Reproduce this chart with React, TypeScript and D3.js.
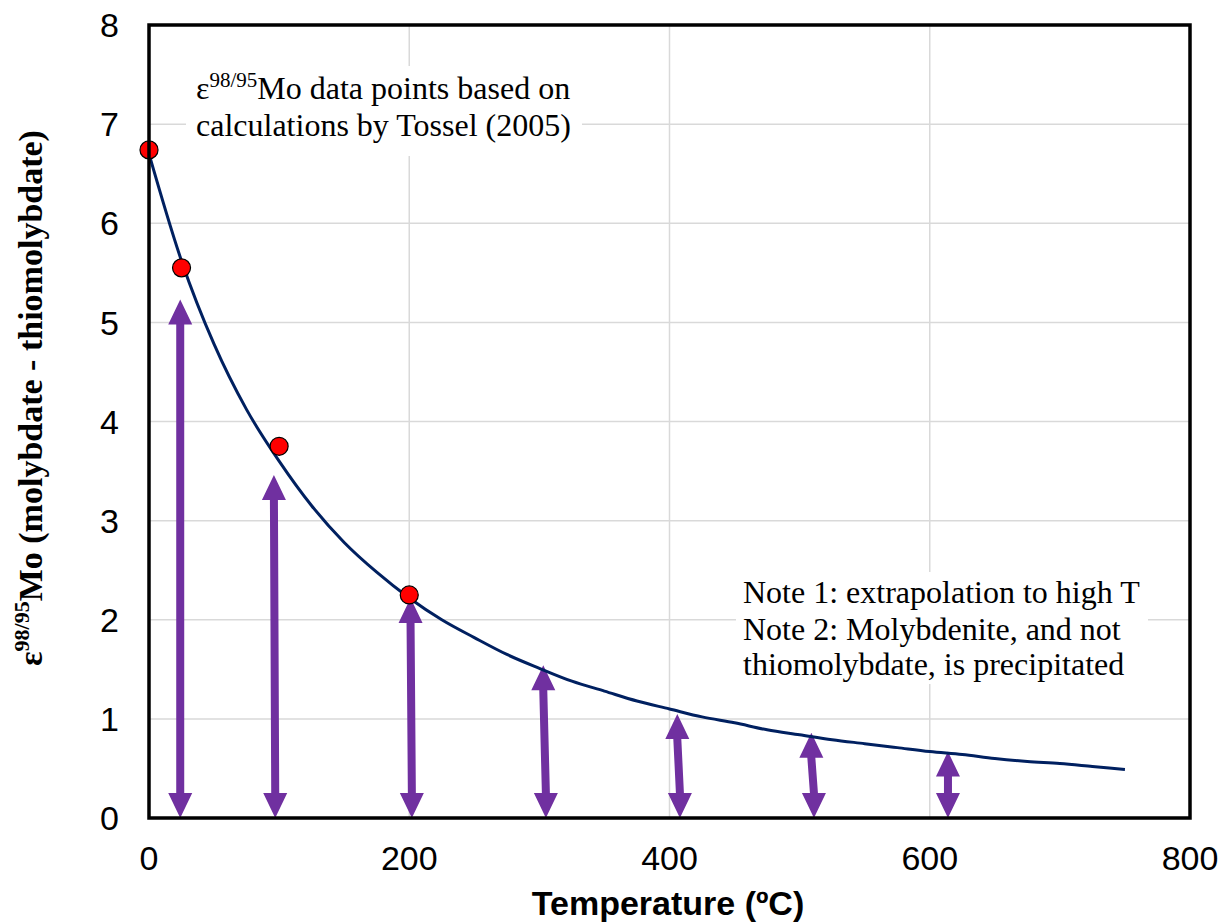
import React from "react";
import * as d3 from "d3";

const xTicks = [0, 200, 400, 600, 800];
const yTicks = [0, 1, 2, 3, 4, 5, 6, 7, 8];

// Tossel (2005) data points
const pointT = [0, 25, 100, 200];
const pointE = [6.74, 5.55, 3.75, 2.25];

// extrapolation curve
const curveT = [0, 25, 50, 75, 100, 125, 150, 175, 200, 225, 250, 275, 300, 325, 350, 375, 400, 425, 450, 475, 500, 525, 550, 575, 600, 625, 650, 675, 700, 725, 750];
const curveE = [6.70, 5.62, 4.78, 4.12, 3.60, 3.15, 2.78, 2.48, 2.22, 2.00, 1.82, 1.65, 1.51, 1.38, 1.28, 1.18, 1.10, 1.02, 0.96, 0.89, 0.84, 0.79, 0.75, 0.71, 0.67, 0.64, 0.60, 0.57, 0.55, 0.52, 0.49];

// double-headed arrows
const arrowTtop = [24, 96, 201, 303, 406, 509, 614];
const arrowTbot = [24, 97, 202, 305, 408, 511, 614];
const arrowTopE = [5.23, 3.46, 2.22, 1.54, 1.05, 0.86, 0.67];

const W = 1225, H = 924;
const L = 149, R = 1190, T = 25, B = 818;

export default function App() {
  const x = d3.scaleLinear().domain([0, 800]).range([L, R]);
  const y = d3.scaleLinear().domain([0, 8]).range([B, T]);
  const line = d3.line<number>().x((_, i) => x(curveT[i])).y((d) => y(d)).curve(d3.curveMonotoneX);

  const headL = 25, headW = 12, shaftW = 4;
  const arrowPath = (i: number) => {
    const xt = x(arrowTtop[i]), xb = x(arrowTbot[i]);
    const yt = y(arrowTopE[i]), yb = y(0);
    const p = [
      [xt, yt], [xt + headW, yt + headL], [xt + shaftW, yt + headL],
      [xb + shaftW, yb - headL], [xb + headW, yb - headL], [xb, yb],
      [xb - headW, yb - headL], [xb - shaftW, yb - headL],
      [xt - shaftW, yt + headL], [xt - headW, yt + headL],
    ];
    return "M" + p.map((q) => q.join(",")).join("L") + "Z";
  };

  const sans = "'Liberation Sans', Arial, sans-serif";
  const serif = "'Liberation Serif', 'Times New Roman', serif";

  return (
    <svg width={W} height={H} style={{ position: "absolute", left: 0, top: 0, background: "#fff" }}>
      {/* grid */}
      {xTicks.slice(1, -1).map((t) => (
        <line key={"gx" + t} x1={x(t)} x2={x(t)} y1={T} y2={B} stroke="#d9d9d9" strokeWidth={1.5} />
      ))}
      {yTicks.slice(1, -1).map((t) => (
        <line key={"gy" + t} x1={L} x2={R} y1={y(t)} y2={y(t)} stroke="#d9d9d9" strokeWidth={1.5} />
      ))}
      {/* text boxes with white background */}
      <rect x={186} y={66} width={396} height={90} fill="#fff" />
      <rect x={736} y={572} width={412} height={112} fill="#fff" />

      {/* arrows */}
      {arrowTopE.map((_, i) => (
        <path key={"a" + i} d={arrowPath(i)} fill="#7030A0" />
      ))}

      {/* curve */}
      <path d={line(curveE) || ""} fill="none" stroke="#002060" strokeWidth={3} />

      {/* points */}
      {pointT.map((t, i) => (
        <circle key={"p" + i} cx={x(t)} cy={y(pointE[i])} r={9} fill="#ff0000" stroke="#000" strokeWidth={1.2} />
      ))}

      {/* frame */}
      <rect x={L} y={T} width={R - L} height={B - T} fill="none" stroke="#000" strokeWidth={3.5} />

      {/* tick labels */}
      {yTicks.map((t) => (
        <text key={"ty" + t} x={119} y={y(t)} dy="0.36em" textAnchor="end" fontFamily={sans} fontSize={34} fill="#000">
          {t}
        </text>
      ))}
      {xTicks.map((t) => (
        <text key={"tx" + t} x={x(t)} y={870} textAnchor="middle" fontFamily={sans} fontSize={34} fill="#000">
          {t}
        </text>
      ))}

      {/* axis titles */}
      <text x={668} y={915} textAnchor="middle" fontFamily={sans} fontSize={34} fontWeight="bold" fill="#000">
        Temperature (ºC)
      </text>
      <text transform="translate(42,398) rotate(-90)" textAnchor="middle" fontFamily={serif} fontSize={34} fontWeight="bold" fill="#000">
        ε<tspan fontSize={22} dy={-13}>98/95</tspan><tspan dy={13}>Mo (molybdate - thiomolybdate)</tspan>
      </text>

      {/* annotations */}
      <text x={196} y={99} fontFamily={serif} fontSize={32} fill="#000">
        ε<tspan fontSize={21} dy={-12}>98/95</tspan><tspan dy={12}>Mo data points based on</tspan>
      </text>
      <text x={196} y={136} fontFamily={serif} fontSize={32} fill="#000">
        calculations by Tossel (2005)
      </text>
      <text fontFamily={serif} fontSize={32} fill="#000">
        <tspan x={743} y={603}>Note 1: extrapolation to high T</tspan>
        <tspan x={743} y={640}>Note 2: Molybdenite, and not</tspan>
        <tspan x={743} y={675}>thiomolybdate, is precipitated</tspan>
      </text>
    </svg>
  );
}
